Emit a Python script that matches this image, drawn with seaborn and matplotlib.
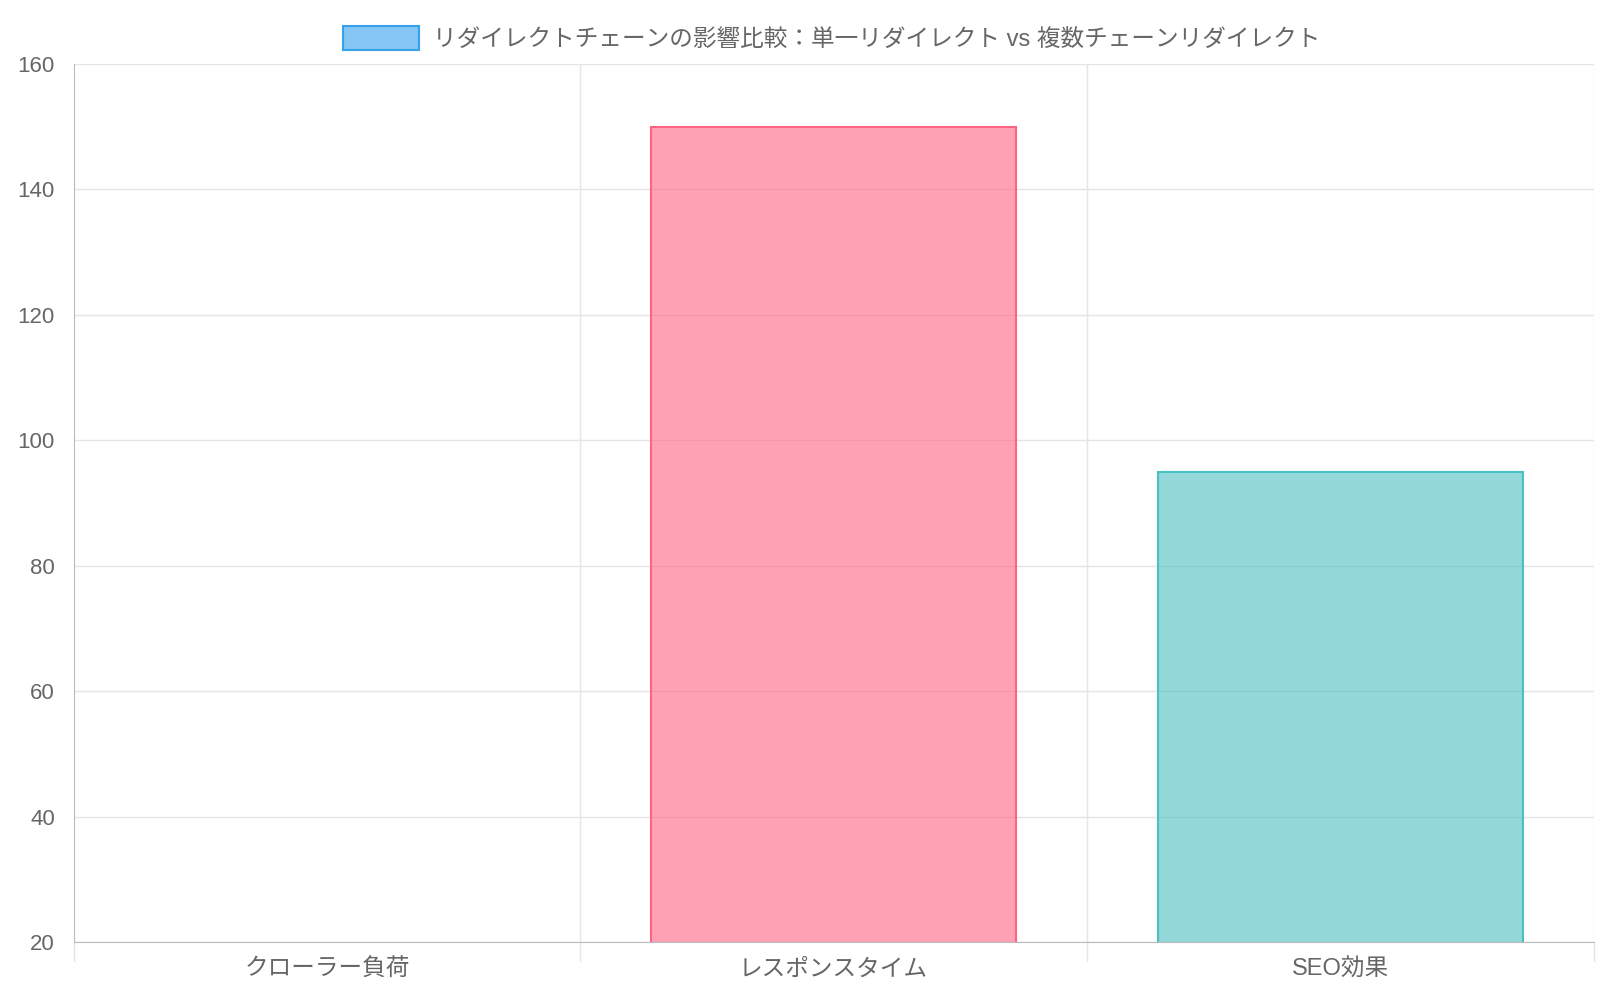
import matplotlib
matplotlib.use("Agg")
import matplotlib.pyplot as plt
import seaborn as sns
import pandas as pd
from matplotlib.patches import Patch

categories = ["クローラー負荷", "レスポンスタイム", "SEO効果"]
values = [15, 150, 95]  # first bar is below the 20 axis floor, so not visible
fills = ["#36A2EB99", "#FF638499", "#4BC0C099"]
edges = ["#36A2EB", "#FF6384", "#4BC0C0"]
title = "リダイレクトチェーンの影響比較：単一リダイレクト vs 複数チェーンリダイレクト"

sns.set_style("white")
plt.rcParams['font.family'] = ['Liberation Sans', 'Noto Sans CJK JP', 'DejaVu Sans']

df = pd.DataFrame({"cat": categories, "val": values})
fig = plt.figure(figsize=(16, 10), dpi=100)
ax = fig.add_axes([0.046, 0.058, 0.95, 0.878])
sns.barplot(data=df, x="cat", y="val", ax=ax, width=0.72, saturation=1)
for p, fc, ec in zip(ax.patches, fills, edges):
    p.set_facecolor(fc)
    p.set_edgecolor(ec)
    p.set_linewidth(1.5)

ax.set_ylim(20, 160)
ax.set_xlim(-0.5, 2.5)
ax.set_yticks(range(20, 161, 20))
ax.set_xlabel("")
ax.set_ylabel("")
ax.grid(True, axis="y", color="#e5e5e5", linewidth=1)
for x in [0.5, 1.5, 2.5]:
    ax.axvline(x, color="#e5e5e5", linewidth=1, zorder=0)
ax.set_axisbelow(True)
for s in ["top", "right"]:
    ax.spines[s].set_visible(False)
ax.spines["left"].set_color("#bbbbbb")
ax.spines["bottom"].set_color("#bbbbbb")
ax.tick_params(axis="y", colors="#666666", labelsize=16, length=10, color="#e5e5e5")
ax.tick_params(axis="x", colors="#666666", labelsize=17, length=0, pad=12)
for x in [-0.5, 0.5, 1.5, 2.5]:
    ax.plot([x, x], [0, -0.022], transform=ax.get_xaxis_transform(), color="#e5e5e5",
            clip_on=False, linewidth=1)

fig.legend(handles=[Patch(facecolor="#85C6F5", edgecolor="#36A2EB", linewidth=1.5)],
           labels=[title], loc="upper center", bbox_to_anchor=(0.52, 0.995),
           frameon=False, fontsize=17, handlelength=3.2, handleheight=1.2,
           handletextpad=0.6, labelcolor="#666666")
fig.savefig("out.png", dpi=100)
